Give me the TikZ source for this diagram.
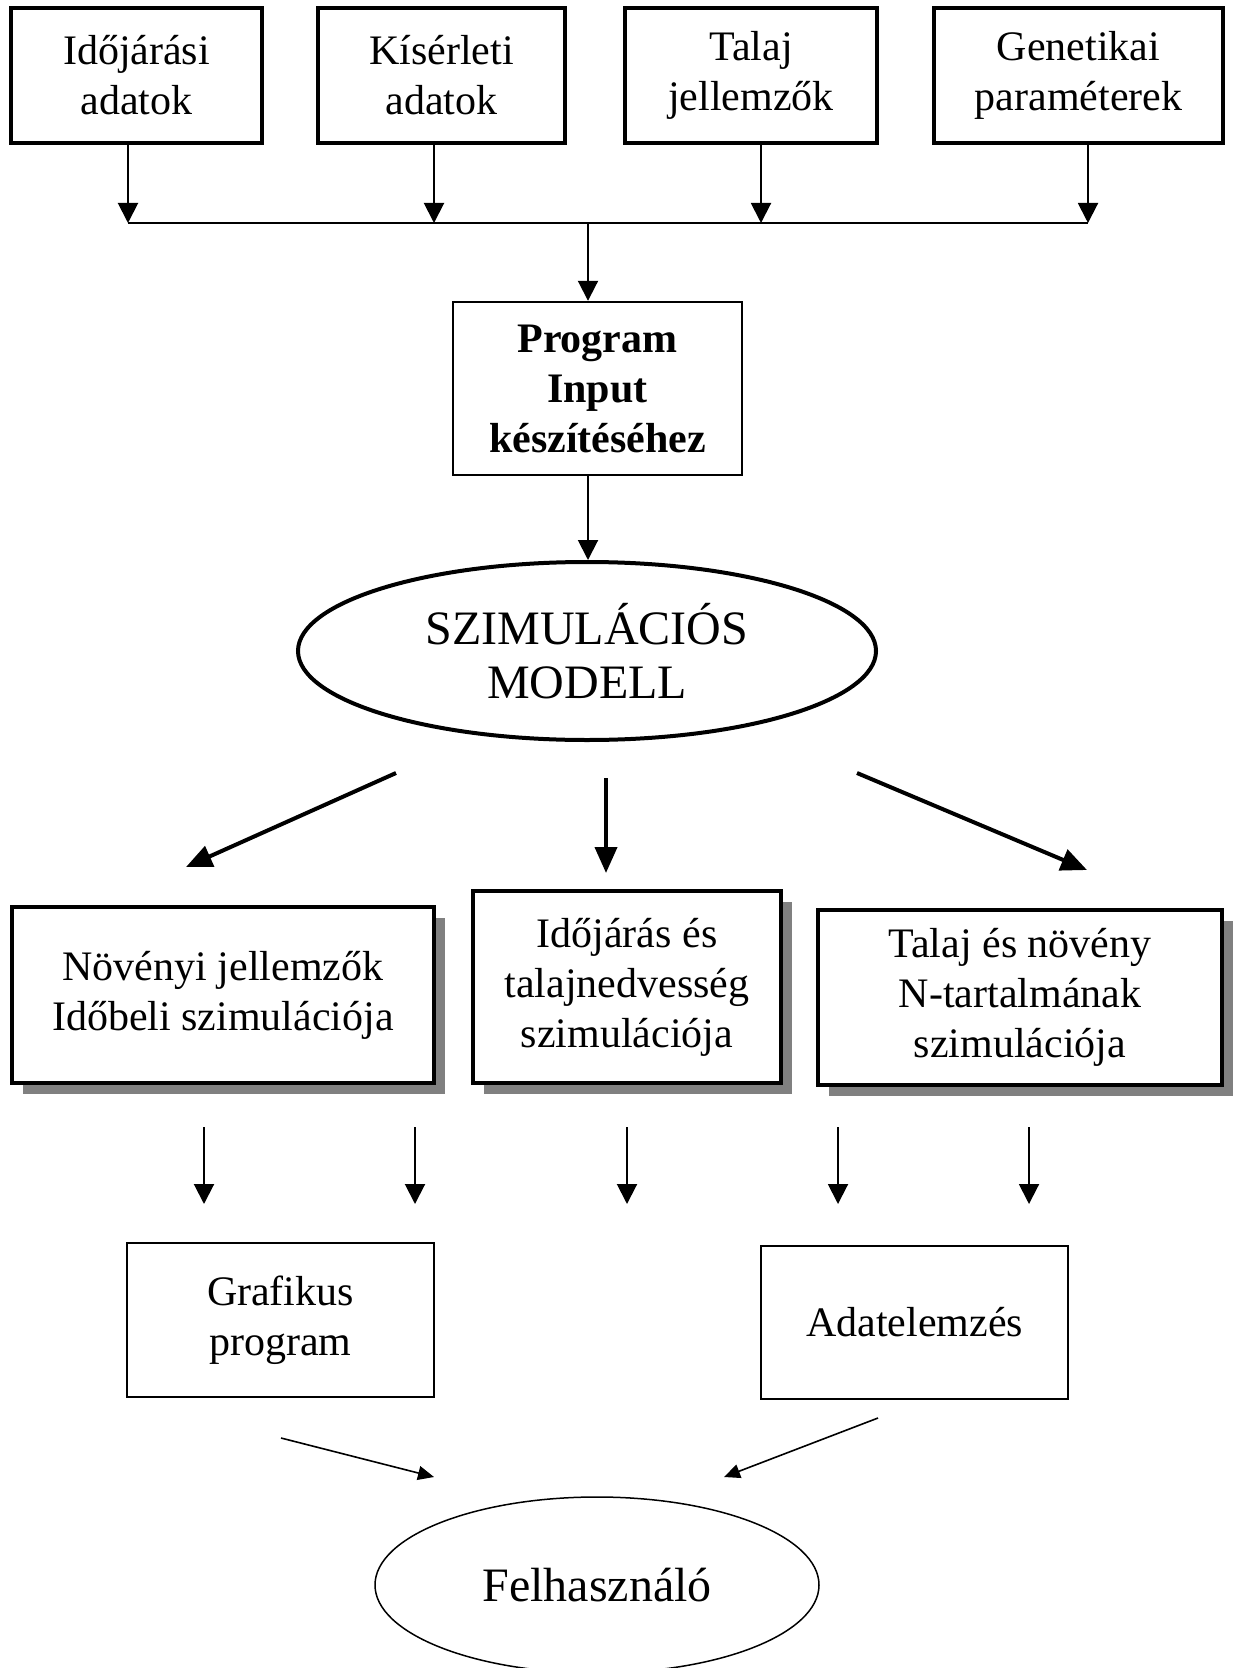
\documentclass[tikz,border=0pt]{standalone}
\usepackage{fontspec}
\setmainfont{Liberation Serif}
\usetikzlibrary{arrows.meta,shapes.geometric,shadows}

\begin{document}
\begin{tikzpicture}[x=0.5pt,y=-0.5pt,
    txt/.style={align=center, inner sep=0pt, font=\fontsize{21pt}{25pt}\selectfont},
    topbox/.style={txt, draw, line width=2pt, minimum height=67.5pt},
    progbox/.style={txt, draw, line width=1.2pt, font=\fontsize{21pt}{25pt}\selectfont\bfseries},
    simbox/.style={txt, draw, fill=white, line width=2pt,
        drop shadow={shadow xshift=5.5pt, shadow yshift=-5.5pt, opacity=1, fill=black!50}},
    outbox/.style={txt, draw, line width=1pt},
    bigell/.style={ellipse, draw, align=center, inner sep=0pt, font=\fontsize{24pt}{27pt}\selectfont},
    thinarrow/.style={-{Triangle[length=10pt,width=10pt]}, line width=1pt},
    thickarrow/.style={-{Triangle[length=13pt,width=11pt]}, line width=2pt},
    userarrow/.style={-{Triangle[length=8pt,width=7pt]}, line width=0.8pt}]
    \useasboundingbox (0,0) rectangle (1239,1668);

    % Input data
    \node[topbox, minimum width=125.5pt] (weather) at (136.5,75.5) {Időjárási\\adatok};
    \node[topbox, minimum width=123.5pt] (trial) at (441.5,75.5) {Kísérleti\\adatok};
    \node[topbox, minimum width=126pt] (soil) at (751,75.5) {Talaj\\jellemzők};
    \node[topbox, minimum width=144.5pt] (genetic) at (1078.5,75.5) {Genetikai\\paraméterek};

    % Collecting line
    \coordinate (j1) at (128,223);
    \coordinate (j2) at (434,223);
    \coordinate (j3) at (761,223);
    \coordinate (j4) at (1088,223);
    \coordinate (jc) at (588,223);
    \draw[thinarrow] (weather.south -| j1) -- (j1);
    \draw[thinarrow] (trial.south -| j2) -- (j2);
    \draw[thinarrow] (soil.south -| j3) -- (j3);
    \draw[thinarrow] (genetic.south -| j4) -- (j4);
    \draw[line width=1pt] (j1) -- (j4);

    % Program input and model
    \node[progbox, minimum width=144.5pt, minimum height=86.5pt] (prog) at (597.5,388.5) {Program\\Input\\készítéséhez};
    \draw[thinarrow] (jc) -- (jc |- prog.north);
    \node[bigell, line width=2pt, minimum width=289pt, minimum height=89pt] (sim) at (587,651) {SZIMULÁCIÓS\\MODELL};
    \draw[thinarrow] (prog.south -| jc) -- (jc |- sim.north);

    % Arrows from the model
    \coordinate (s1) at (396,773);
    \coordinate (t1) at (186,867);
    \coordinate (s2) at (606,778);
    \coordinate (t2) at (606,873);
    \coordinate (s3) at (857,773);
    \coordinate (t3) at (1087,870);
    \draw[thickarrow] (s1) -- (t1);
    \draw[thickarrow] (s2) -- (t2);
    \draw[thickarrow] (s3) -- (t3);

    % Simulation parts
    \node[simbox, minimum width=211pt, minimum height=88pt] (plant) at (223,995) {Növényi jellemzők\\Időbeli szimulációja};
    \node[simbox, minimum width=154pt, minimum height=96pt] (water) at (627,987) {Időjárás és\\talajnedvesség\\szimulációja};
    \node[simbox, minimum width=202pt, minimum height=87.5pt] (nitro) at (1020,997.5) {Talaj és növény\\N-tartalmának\\szimulációja};

    % Outputs
    \foreach \x [count=\i] in {204,415,627,838,1029} {
        \coordinate (u\i) at (\x,1127);
        \coordinate (v\i) at (\x,1204);
        \draw[thinarrow] (u\i) -- (v\i);
    }
    \node[outbox, minimum width=153.5pt, minimum height=77pt] (graph) at (280.5,1320) {Grafikus\\program};
    \node[outbox, minimum width=153.5pt, minimum height=76.5pt] (analysis) at (914.5,1322.5) {Adatelemzés};

    % User
    \node[bigell, line width=0.75pt, minimum width=222pt, minimum height=88pt] (user) at (597,1585) {Felhasználó};
    \coordinate (b1) at (281,1438);
    \coordinate (g1) at (434,1477);
    \coordinate (b2) at (878,1418);
    \coordinate (g2) at (724,1477);
    \draw[userarrow] (b1) -- (g1);
    \draw[userarrow] (b2) -- (g2);
\end{tikzpicture}
\end{document}
